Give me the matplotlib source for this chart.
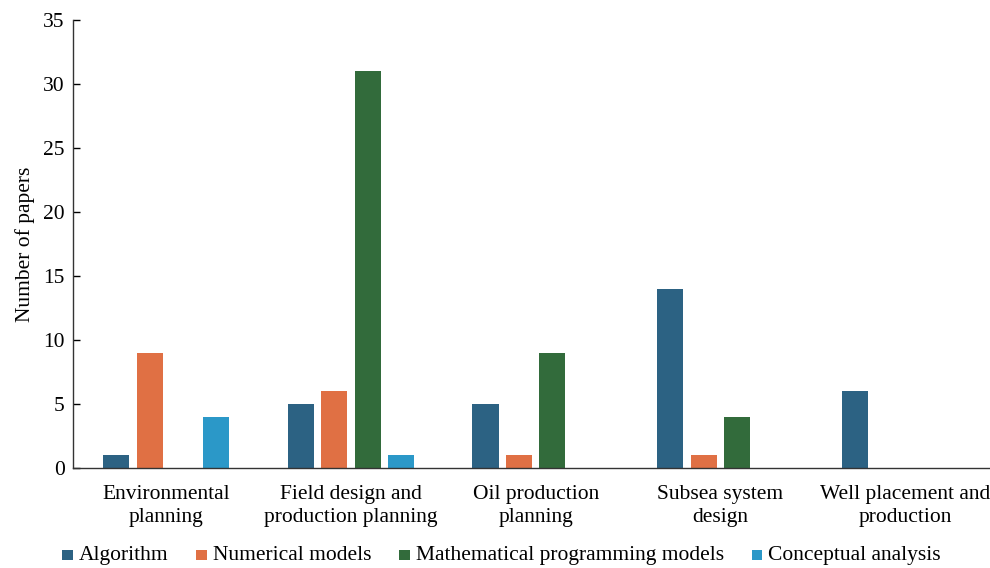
import matplotlib
matplotlib.use("Agg")
import matplotlib.pyplot as plt
import numpy as np
from matplotlib.patches import Rectangle

plt.rcParams['font.family'] = ['Liberation Serif', 'DejaVu Serif']

categories = ["Environmental\nplanning", "Field design and\nproduction planning",
              "Oil production\nplanning", "Subsea system\ndesign",
              "Well placement and\nproduction"]
series_names = ["Algorithm", "Numerical models", "Mathematical programming models",
                "Conceptual analysis"]
algorithm = [1, 5, 5, 14, 6]
numerical = [9, 6, 1, 1, 0]
mathematical = [0, 31, 9, 4, 0]
conceptual = [4, 1, 0, 0, 0]
colors = ["#2c6283", "#e07044", "#326b3b", "#2b98c8"]
yticks = [0, 5, 10, 15, 20, 25, 30, 35]

FS = 15.5
W, H = 990, 568

fig = plt.figure(figsize=(W / 100, H / 100), dpi=100)
ax = fig.add_axes([73 / W, 100 / H, 1 - 73 / W, 448 / H])

x = np.arange(len(categories))
width = 0.141
step = 0.181
data = [algorithm, numerical, mathematical, conceptual]
for i, (vals, c) in enumerate(zip(data, colors)):
    ax.bar(x + (i - 1.5) * step, vals, width=width, color=c, zorder=2)

ax.set_xlim(-0.505, 4.46)
ax.set_ylim(0, 35)
ax.set_yticks(yticks)
ax.set_xticks(x)
ax.set_xticklabels(categories, fontsize=FS, linespacing=1.3)
ax.tick_params(axis='x', length=0, pad=12)
ax.tick_params(axis='y', direction='in', length=5, labelsize=FS, pad=6, width=1)
for s in ['top', 'right']:
    ax.spines[s].set_visible(False)
for s in ['left', 'bottom']:
    ax.spines[s].set_color('#333333')
    ax.spines[s].set_linewidth(1)
ax.set_ylabel("Number of papers", fontsize=FS, labelpad=6)

# Legend drawn as a single row with baseline-aligned text
renderer = fig.canvas.get_renderer()
cur = 62.0          # px from left
base = H - 560.0    # baseline, px from bottom
box = 10.5
text_gap = 6.0
col_gap = 28.0
for name, c in zip(series_names, colors):
    fig.patches.append(Rectangle((cur / W, base / H), box / W, box / H,
                                 transform=fig.transFigure, facecolor=c,
                                 edgecolor='none', figure=fig))
    t = fig.text((cur + box + text_gap) / W, base / H, name, fontsize=FS,
                 ha='left', va='baseline')
    tw = t.get_window_extent(renderer=renderer).width
    cur += box + text_gap + tw + col_gap

fig.savefig("out.png", dpi=100)
